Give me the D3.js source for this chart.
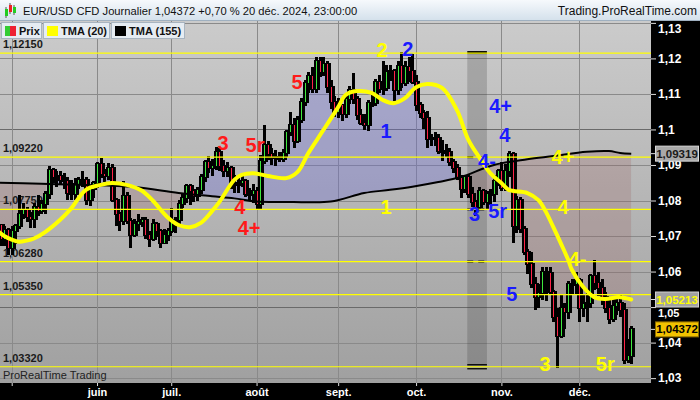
<!DOCTYPE html>
<html><head><meta charset="utf-8">
<script src="https://cdn.jsdelivr.net/npm/d3@7"></script>
<style>
html,body{margin:0;padding:0;background:#000;}
svg{display:block;font-family:"Liberation Sans",Arial,sans-serif;}
</style></head><body>
<svg id="c" width="700" height="400"></svg>
<script>
// ---------- DATA (EUR/USD daily, 25 Apr 2024 -> 20 Dec 2024, trading days) ----------
const firstDay = "2024-04-25", lastDay = "2024-12-20";
const open = [
1.0699,1.0730,1.0693,1.0718,1.0665,1.0713,1.0727,1.0762,1.0772,1.0753,
1.0748,1.0783,1.0770,1.0790,1.0818,1.0886,1.0866,1.0870,1.0857,1.0855,
1.0821,1.0817,1.0846,1.0857,1.0859,1.0801,1.0833,1.0848,1.0903,1.0876,
1.0869,1.0891,1.0801,1.0763,1.0741,1.0813,1.0741,1.0702,1.0734,1.0740,
1.0746,1.0702,1.0693,1.0733,1.0714,1.0681,1.0702,1.0713,1.0740,1.0744,
1.0790,1.0808,1.0840,1.0826,1.0813,1.0829,1.0865,1.0907,1.0892,1.0897,
1.0937,1.0898,1.0883,1.0892,1.0846,1.0845,1.0848,1.0855,1.0819,1.0819,
1.0826,1.0790,1.0911,1.0955,1.0930,1.0922,1.0920,1.0917,1.0933,1.0992,
1.1012,1.0967,1.1027,1.1077,1.1130,1.1151,1.1113,1.1192,1.1161,1.1184,
1.1119,1.1077,1.1048,1.1068,1.1044,1.1087,1.1111,1.1085,1.1040,1.1017,
1.1012,1.1074,1.1075,1.1133,1.1114,1.1118,1.1161,1.1164,1.1110,1.1179,
1.1132,1.1176,1.1164,1.1134,1.1068,1.1046,1.1032,1.0974,1.0975,1.0977,
1.0940,1.0936,1.0937,1.0909,1.0891,1.0862,1.0832,1.0867,1.0817,1.0796,
1.0781,1.0826,1.0796,1.0817,1.0817,1.0855,1.0884,1.0834,1.0882,1.0930,
1.0728,1.0801,1.0720,1.0655,1.0622,1.0564,1.0529,1.0541,1.0600,1.0596,
1.0543,1.0471,1.0418,1.0497,1.0487,1.0566,1.0565,1.0577,1.0497,1.0509,
1.0512,1.0587,1.0567,1.0554,1.0528,1.0497,1.0467,1.0502,1.0512,1.0491,
1.0351,1.0363];
const high = [
1.0742,1.0732,1.0725,1.0720,1.0724,1.0730,1.0812,1.0790,1.0780,1.0765,
1.0790,1.0812,1.0800,1.0825,1.0895,1.0890,1.0880,1.0880,1.0875,1.0862,
1.0855,1.0860,1.0862,1.0880,1.0862,1.0835,1.0852,1.0905,1.0916,1.0885,
1.0902,1.0900,1.0805,1.0765,1.0852,1.0820,1.0748,1.0745,1.0760,1.0752,
1.0750,1.0711,1.0745,1.0738,1.0716,1.0718,1.0720,1.0776,1.0750,1.0800,
1.0816,1.0845,1.0845,1.0830,1.0835,1.0872,1.0910,1.0922,1.0915,1.0948,
1.0945,1.0912,1.0905,1.0895,1.0868,1.0869,1.0871,1.0859,1.0833,1.0844,
1.0834,1.0926,1.1009,1.0965,1.0945,1.0938,1.0935,1.0942,1.0996,1.1047,
1.1030,1.1035,1.1085,1.1135,1.1160,1.1174,1.1200,1.1202,1.1202,1.1190,
1.1135,1.1090,1.1085,1.1070,1.1090,1.1120,1.1155,1.1090,1.1055,1.1040,
1.1080,1.1100,1.1140,1.1150,1.1189,1.1180,1.1180,1.1168,1.1190,1.1214,
1.1190,1.1200,1.1210,1.1150,1.1075,1.1052,1.1050,1.0985,1.0990,1.0985,
1.0968,1.0955,1.0945,1.0915,1.0900,1.0870,1.0870,1.0870,1.0835,1.0800,
1.0835,1.0830,1.0825,1.0830,1.0870,1.0885,1.0905,1.0900,1.0937,1.0935,
1.0810,1.0808,1.0725,1.0660,1.0653,1.0582,1.0561,1.0610,1.0610,1.0610,
1.0545,1.0495,1.0530,1.0510,1.0570,1.0575,1.0595,1.0580,1.0535,1.0545,
1.0590,1.0630,1.0595,1.0575,1.0540,1.0520,1.0525,1.0520,1.0530,1.0510,
1.0408,1.0444];
const low = [
1.0690,1.0675,1.0675,1.0650,1.0650,1.0680,1.0722,1.0750,1.0742,1.0725,
1.0724,1.0760,1.0765,1.0765,1.0808,1.0852,1.0840,1.0847,1.0835,1.0805,
1.0804,1.0805,1.0835,1.0840,1.0790,1.0788,1.0810,1.0838,1.0865,1.0855,
1.0860,1.0800,1.0732,1.0717,1.0734,1.0737,1.0668,1.0700,1.0717,1.0727,
1.0695,1.0672,1.0690,1.0700,1.0668,1.0680,1.0690,1.0710,1.0710,1.0730,
1.0782,1.0795,1.0790,1.0800,1.0802,1.0820,1.0855,1.0880,1.0872,1.0890,
1.0887,1.0870,1.0870,1.0835,1.0825,1.0825,1.0840,1.0812,1.0802,1.0795,
1.0778,1.0780,1.0905,1.0918,1.0902,1.0900,1.0910,1.0910,1.0925,1.0985,
1.0950,1.0965,1.1020,1.1070,1.1105,1.1105,1.1105,1.1150,1.1153,1.1105,
1.1060,1.1038,1.1035,1.1026,1.1035,1.1075,1.1075,1.1030,1.1015,1.1002,
1.0998,1.1065,1.1070,1.1105,1.1100,1.1110,1.1140,1.1083,1.1100,1.1120,
1.1125,1.1135,1.1130,1.1055,1.1035,1.1005,1.0950,1.0955,1.0955,1.0935,
1.0915,1.0925,1.0900,1.0880,1.0860,1.0811,1.0825,1.0810,1.0785,1.0760,
1.0775,1.0790,1.0780,1.0790,1.0800,1.0845,1.0830,1.0830,1.0870,1.0683,
1.0710,1.0710,1.0650,1.0595,1.0556,1.0495,1.0500,1.0524,1.0520,1.0540,
1.0460,1.0332,1.0415,1.0440,1.0470,1.0540,1.0540,1.0460,1.0475,1.0460,
1.0500,1.0550,1.0535,1.0510,1.0485,1.0455,1.0460,1.0480,1.0475,1.0343,
1.0344,1.0343];
const close = [
1.0729,1.0693,1.0718,1.0665,1.0713,1.0727,1.0762,1.0772,1.0753,1.0748,
1.0783,1.0770,1.0790,1.0818,1.0886,1.0866,1.0870,1.0857,1.0855,1.0821,
1.0817,1.0846,1.0857,1.0859,1.0801,1.0833,1.0848,1.0903,1.0876,1.0869,
1.0891,1.0801,1.0763,1.0741,1.0813,1.0741,1.0702,1.0734,1.0740,1.0746,
1.0702,1.0693,1.0733,1.0714,1.0681,1.0702,1.0713,1.0740,1.0744,1.0790,
1.0808,1.0840,1.0826,1.0813,1.0829,1.0865,1.0907,1.0892,1.0897,1.0937,
1.0898,1.0883,1.0892,1.0846,1.0845,1.0848,1.0855,1.0819,1.0819,1.0826,
1.0790,1.0911,1.0955,1.0930,1.0922,1.0920,1.0917,1.0933,1.0992,1.1012,
1.0967,1.1027,1.1077,1.1130,1.1151,1.1113,1.1192,1.1161,1.1184,1.1119,
1.1077,1.1048,1.1068,1.1044,1.1087,1.1111,1.1085,1.1040,1.1017,1.1012,
1.1074,1.1075,1.1133,1.1114,1.1118,1.1161,1.1164,1.1110,1.1179,1.1132,
1.1176,1.1164,1.1134,1.1068,1.1046,1.1032,1.0974,1.0975,1.0977,1.0940,
1.0936,1.0937,1.0909,1.0891,1.0862,1.0832,1.0867,1.0817,1.0796,1.0781,
1.0826,1.0796,1.0817,1.0817,1.0855,1.0884,1.0834,1.0882,1.0930,1.0728,
1.0801,1.0720,1.0655,1.0622,1.0564,1.0529,1.0541,1.0600,1.0596,1.0543,
1.0471,1.0418,1.0497,1.0487,1.0566,1.0565,1.0577,1.0497,1.0509,1.0512,
1.0587,1.0567,1.0554,1.0528,1.0497,1.0467,1.0502,1.0512,1.0491,1.0351,
1.0363,1.04372];

// TMA(20) (trading-day index -> value)
const tma20Idx = [0,2,4,6,8,10,13,17,20,24,28,31,35,39,42,46,49,52,55,58,60,64,66,69,73,78,81,84,88,92,94,97,101,104,107,110,113,116,120,124,127,130,133,136,138,143,146,148,150,152,154,155,158,161,164,168,171];
const tma20 = [1.0716,1.0700,1.0690,1.0684,1.0687,1.0693,1.0711,1.0745,1.0777,1.0830,1.0844,1.0849,1.0844,1.0828,1.0800,1.0753,1.0731,1.0725,1.0737,1.0770,1.0796,1.0858,1.0872,1.0877,1.0869,1.0863,1.0880,1.0934,1.0998,1.1063,1.1097,1.1108,1.1103,1.1083,1.1074,1.1088,1.1119,1.1128,1.1117,1.1055,1.0973,1.0922,1.0877,1.0849,1.0830,1.0821,1.0801,1.0768,1.0725,1.0680,1.0633,1.0605,1.0557,1.0528,1.0523,1.0528,1.05213];
// TMA(155)
const tma155Idx = [0,12,22,37,49,58,64,70,80,90,99,106,112,119,125,134,143,150,159,165,168,171];
const tma155 = [1.0850,1.0847,1.0844,1.0838,1.0821,1.0812,1.0806,1.0797,1.0796,1.0797,1.0821,1.0830,1.0839,1.0852,1.0866,1.0900,1.0916,1.0925,1.0937,1.0939,1.0934,1.09319];

// Horizontal levels
const levels = [1.12150, 1.09220, 1.07750, 1.06280, 1.05350, 1.03320];
const levelLabels = ["1,12150","1,09220","1,07750","1,06280","1,05350","1,03320"];
const zoneIdx = [126.8, 132.1];
const zoneDashLevels = [1.09220, 1.07750, 1.06280];

// Y axis ticks
const yTicks = [1.03,1.04,1.05,1.06,1.07,1.08,1.09,1.10,1.11,1.12,1.13];
const yTickLabels = ["1,03","1,04","1,05","1,06","1,07","1,08","1,09","1,1","1,11","1,12","1,13"];
// X axis month labels (first trading day of each month)
const monthLabels = ["", "juin", "juil.", "août", "sept.", "oct.", "nov.", "déc."];

// Wave annotations
const annText  = ["5","3","5r","4","4+", "2","1","4+","4","4-","3","5r", "2","1","4+","4","4-","3","5r","5"];
const annColor = ["r","r","r","r","r", "y","y","y","y","y","y","y", "b","b","b","b","b","b","b","b"];
const annIdx   = [80.9,60.95,69.6,65.5,68.0, 103.8,104.9,152.6,152.6,156.5,147.8,164.0, 110.8,104.9,135.8,136.9,132.1,128.8,135.0,138.8];
const annPrice = [1.11335,1.09618,1.09562,1.07817,1.07226, 1.12236,1.07817,1.09224,1.07817,1.06354,1.03398,1.03398, 1.12264,1.09956,1.1066,1.09844,1.09112,1.0762,1.07704,1.05368];

// Value tags on the right axis
const tagValues = [1.09319, 1.05213, 1.04372];
const tagTexts  = ["1,09319","1,05213","1,04372"];

// ---------- BUILD ----------
const parse = d3.utcParse("%Y-%m-%d");
const days = d3.utcDay.range(parse(firstDay), d3.utcDay.offset(parse(lastDay),1)).filter(d => d.getUTCDay()!==0 && d.getUTCDay()!==6);

const svg = d3.select("#c");
const W=700,H=400, PL=0, PT=21, PR=651, PB=383;

const x = d3.scaleLinear().domain([4,157]).range([11.7,579.3]);
const y = d3.scaleLinear().domain([1.08,1.12]).range([200.5,58.4]);

const defs = svg.append("defs");
const bg = defs.append("linearGradient").attr("id","bg").attr("x1",0).attr("y1",0).attr("x2",0).attr("y2",1);
bg.append("stop").attr("offset","0%").attr("stop-color","#cbcbcb");
bg.append("stop").attr("offset","100%").attr("stop-color","#a0a0a0");
const hg = defs.append("linearGradient").attr("id","hg").attr("x1",0).attr("y1",0).attr("x2",0).attr("y2",1);
hg.append("stop").attr("offset","0%").attr("stop-color","#f6f9fc");
hg.append("stop").attr("offset","100%").attr("stop-color","#d3e0eb");
defs.append("clipPath").attr("id","plotclip").append("rect").attr("x",PL).attr("y",PT).attr("width",PR-PL).attr("height",PB-PT);

// whole background black (axes)
svg.append("rect").attr("width",W).attr("height",H).attr("fill","#000");
// header
svg.append("rect").attr("x",0).attr("y",0).attr("width",W).attr("height",PT).attr("fill","url(#hg)");
svg.append("line").attr("x1",0).attr("x2",W).attr("y1",PT-0.5).attr("y2",PT-0.5).attr("stroke","#9fb0c0");
// header icon
const icon = svg.append("g");
[[5,9,7,"#2c2"],[9,5,7,"#e22"],[13,7,6,"#2c2"]].forEach(([ix,iy,ih,c])=>{
  icon.append("line").attr("x1",ix+1).attr("x2",ix+1).attr("y1",iy-2).attr("y2",iy+ih+2).attr("stroke","#555");
  icon.append("rect").attr("x",ix).attr("y",iy).attr("width",3).attr("height",ih).attr("fill",c);
});
svg.append("text").attr("x",23).attr("y",15).attr("font-size",11.2).attr("fill","#111")
  .text("EUR/USD CFD Journalier 1,04372 +0,70 % 20 déc. 2024, 23:00:00");
svg.append("text").attr("x",697).attr("y",15).attr("font-size",12).attr("fill","#111").attr("text-anchor","end")
  .text("Trading.ProRealTime.com");

// plot
const plot = svg.append("g").attr("clip-path","url(#plotclip)");
plot.append("rect").attr("x",PL).attr("y",PT).attr("width",PR-PL).attr("height",PB-PT).attr("fill","url(#bg)");

// grid
const monthIdx = [];
days.forEach((d,i)=>{ if(i>0 && d.getUTCMonth()!==days[i-1].getUTCMonth()) monthIdx.push(i); });
plot.selectAll("line.hg").data(yTicks).join("line")
  .attr("x1",PL).attr("x2",PR).attr("y1",d=>Math.round(y(d))+0.5).attr("y2",d=>Math.round(y(d))+0.5)
  .attr("stroke",d=>(Math.abs(d-1.05)<1e-6||Math.abs(d-1.10)<1e-6)?"#6a6a6a":"#8a8a8a").attr("stroke-width",1);
plot.selectAll("line.vg").data(monthIdx).join("line")
  .attr("x1",d=>Math.round(x(d))+0.5).attr("x2",d=>Math.round(x(d))+0.5).attr("y1",PT).attr("y2",PB)
  .attr("stroke","#8a8a8a");

// fills between close and TMA155
const idxAll = d3.range(close.length);
const closeLine = d3.line().x(i=>x(i)).y(i=>y(close[i]));
const tmaLine = d3.line().curve(d3.curveCatmullRom.alpha(0.5));
const t155pts = tma155Idx.map((k,j)=>[x(k), y(tma155[j])]);
const t155D = tmaLine(t155pts);
const t155RevD = tmaLine(t155pts.slice().reverse());
const polyD = closeLine(idxAll) + t155RevD.replace(/^M/,"L") + "Z";
const xa = x(tma155Idx[0]), xb = x(tma155Idx[tma155Idx.length-1]);
defs.append("clipPath").attr("id","above").append("path").attr("d", t155D + `L${xb},-50L${xa},-50Z`);
defs.append("clipPath").attr("id","below").append("path").attr("d", t155D + `L${xb},500L${xa},500Z`);
plot.append("g").attr("clip-path","url(#above)").append("path").attr("d",polyD).attr("fill","rgba(105,105,215,0.33)");
plot.append("g").attr("clip-path","url(#below)").append("path").attr("d",polyD).attr("fill","rgba(150,85,85,0.22)");

// zone band
const zx0 = x(zoneIdx[0]), zx1 = x(zoneIdx[1]);
plot.append("rect").attr("x",zx0).attr("width",zx1-zx0).attr("y",y(levels[0])).attr("height",y(levels[5])-y(levels[0]))
  .attr("fill","rgba(50,50,50,0.22)");
plot.append("rect").attr("x",zx0).attr("width",zx1-zx0).attr("y",y(levels[0])-2).attr("height",3).attr("fill","#000");
[-2,2].forEach(o=>plot.append("line").attr("x1",zx0).attr("x2",zx1).attr("y1",y(levels[5])+o).attr("y2",y(levels[5])+o).attr("stroke","#000").attr("stroke-width",1.3));
zoneDashLevels.forEach(v=>{
  [[0,6],[11,17]].forEach(([a,b])=>{
    plot.append("line").attr("x1",zx0+a).attr("x2",zx0+b).attr("y1",y(v)).attr("y2",y(v)).attr("stroke","#000").attr("stroke-width",2);
  });
});

// level labels
plot.selectAll("text.lvl").data(levels).join("text")
  .attr("x",3).attr("y",d=>y(d)-5).attr("font-size",11).attr("font-weight","bold").attr("fill","#1a1a1a")
  .text((d,i)=>levelLabels[i]);

// candles
const cg = plot.append("g").attr("shape-rendering","crispEdges");
idxAll.forEach(i=>{
  const cx = Math.round(x(i));
  const yh = y(high[i]), yl = y(low[i]);
  const yo = y(open[i]), yc = y(close[i]);
  const bt = Math.min(yo,yc), bb = Math.max(yo,yc);
  cg.append("rect").attr("x",cx-1).attr("y",yh-1).attr("width",3).attr("height",yl-yh+2).attr("fill","#000");
  cg.append("rect").attr("x",cx-2).attr("y",bt-1).attr("width",6).attr("height",Math.max(bb-bt,1)+2).attr("fill","#000");
  if (bb-bt >= 1.5)
    cg.append("rect").attr("x",cx).attr("y",bt).attr("width",1).attr("height",bb-bt)
      .attr("fill", close[i]>=open[i] ? "#3ee83e" : "#ff2448");
});

// level lines (yellow)
plot.selectAll("line.lv").data(levels).join("line")
  .attr("x1",PL).attr("x2",PR).attr("y1",d=>y(d)).attr("y2",d=>y(d))
  .attr("stroke","#ffff00").attr("stroke-width",1.2);

// TMA lines
plot.append("path").attr("d",t155D).attr("fill","none").attr("stroke","#000").attr("stroke-width",2);
plot.append("path").attr("d",tmaLine(tma20Idx.map((k,j)=>[x(k),y(tma20[j])])))
  .attr("fill","none").attr("stroke","#ffff00").attr("stroke-width",4).attr("stroke-linecap","round").attr("stroke-linejoin","round");

// annotations
const colMap = {r:"#ff1a1a", y:"#ffff00", b:"#1a1aff"};
plot.selectAll("text.ann").data(annText).join("text")
  .attr("x",(d,i)=>x(annIdx[i])).attr("y",(d,i)=>y(annPrice[i])+7)
  .attr("text-anchor","middle").attr("font-size",20).attr("font-weight","bold")
  .attr("fill",(d,i)=>colMap[annColor[i]]).text(d=>d);

plot.append("text").attr("x",3).attr("y",379).attr("font-size",11).attr("fill","#222").text("ProRealTime Trading");

// legend
const legend = svg.append("g").attr("font-size",11).attr("font-weight","bold").attr("fill","#111");
const legItems = [{x:1,w:40,label:"Prix"},{x:43,w:66,label:"TMA (20)"},{x:111,w:73,label:"TMA (155)"}];
legItems.forEach((it,k)=>{
  legend.append("rect").attr("x",it.x+0.5).attr("y",22.5).attr("width",it.w).attr("height",16).attr("fill","#e6ecf2").attr("stroke","#a8b4c0");
  if(k===0){
    legend.append("rect").attr("x",it.x+4).attr("y",26).attr("width",5).attr("height",10).attr("fill","#33cc33");
    legend.append("rect").attr("x",it.x+9).attr("y",26).attr("width",6).attr("height",10).attr("fill","#ee2233");
  } else {
    legend.append("rect").attr("x",it.x+4).attr("y",26).attr("width",11).attr("height",10).attr("fill",k===1?"#ffff00":"#000");
  }
  legend.append("text").attr("x",it.x+18).attr("y",35).text(it.label);
});

// right axis
const ra = svg.append("g").attr("transform",`translate(${PR},0)`)
  .call(d3.axisRight(y).tickValues(yTicks).tickSize(5).tickPadding(2).tickFormat((d,i)=>yTickLabels[i]));
ra.select(".domain").remove();
ra.selectAll("line").attr("stroke","#ddd");
ra.selectAll("text").attr("fill","#fff").attr("font-size",12).attr("font-weight","bold").attr("font-family","Liberation Sans, Arial, sans-serif");
// keep the topmost label inside the axis panel (below the header)
ra.selectAll(".tick").filter(d=>y(d)-7<PT+2).select("text").attr("y",d=>PT+8-y(d));
// the 1,05 label sits just below the 1,05213 tag
ra.selectAll(".tick").filter(d=>Math.abs(d-1.05)<1e-6).select("text").attr("y",6).attr("font-size",11);

// bottom axis
const ba = svg.append("g").attr("transform",`translate(0,${PB})`)
  .call(d3.axisBottom(x).tickValues(monthIdx).tickSize(3).tickPadding(2).tickFormat((d,i)=>monthLabels[i]));
ba.select(".domain").remove();
ba.selectAll("line").attr("stroke","#ddd");
ba.selectAll("text").attr("fill","#fff").attr("font-size",11).attr("font-weight","bold").attr("font-family","Liberation Sans, Arial, sans-serif");

// value tags
const tagStyle = [{bg:"#a9a9a9",fg:"#1a1a1a",st:"#d8d8d8"},{bg:"#a2a2a2",fg:"#ffff00",st:"#d0d0d0"},{bg:"#f2c200",fg:"#000",st:"#8a6a00"}];
tagValues.forEach((v,k)=>{
  const ty = y(v);
  svg.append("line").attr("x1",PR).attr("x2",PR+5).attr("y1",ty).attr("y2",ty).attr("stroke","#ddd");
  svg.append("rect").attr("x",655.5).attr("y",ty-7.5).attr("width",43).attr("height",15)
    .attr("fill",tagStyle[k].bg).attr("stroke",tagStyle[k].st);
  svg.append("text").attr("x",677).attr("y",ty+4).attr("text-anchor","middle").attr("font-size",11.5).attr("font-weight","bold")
    .attr("fill",tagStyle[k].fg).text(tagTexts[k]);
});
</script>
</body></html>
